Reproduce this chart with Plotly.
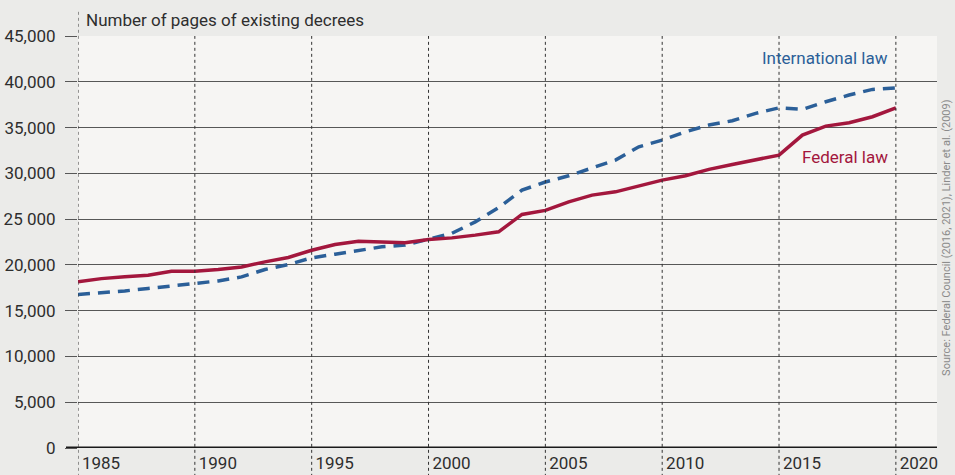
import plotly.graph_objects as go

years = list(range(1985, 2021))
federal_law = [18150, 18500, 18700, 18880, 19300, 19300, 19500, 19780, 20330, 20810,
               21600, 22230, 22590, 22520, 22410, 22780, 22950, 23250, 23610, 25510,
               25950, 26890, 27620, 27980, 28600, 29260, 29730, 30430, 30970, 31520,
               31990, 34180, 35160, 35520, 36180, 37160]
international_law = [16770, 16950, 17160, 17420, 17710, 18000, 18250, 18690, 19500, 20040,
                     20770, 21170, 21570, 21970, 22160, 22800, 23450, 24700, 26250, 28170,
                     29050, 29730, 30540, 31450, 32900, 33630, 34540, 35270, 35740, 36550,
                     37150, 36990, 37820, 38550, 39170, 39330]
y_ticks = [0, 5000, 10000, 15000, 20000, 25000, 30000, 35000, 40000, 45000]
y_ticktext = ["0", "5,000", "10,000", "15,000", "20,000", "25 000", "30,000", "35,000", "40,000", "45,000"]
x_ticks = [1985, 1990, 1995, 2000, 2005, 2010, 2015, 2020]

FONT = "Roboto, Liberation Sans Narrow, sans-serif"
RED = "#a3173d"
BLUE = "#2b5f98"
TXT = "#2e2e2e"

fig = go.Figure()
fig.add_trace(go.Scatter(x=years, y=international_law, mode="lines",
                         line=dict(color=BLUE, width=3.5, dash="12px,8px"),
                         hoverinfo="skip", showlegend=False))
fig.add_trace(go.Scatter(x=years, y=federal_law, mode="lines",
                         line=dict(color=RED, width=3.5),
                         hoverinfo="skip", showlegend=False))

shapes = []
for yr in x_ticks:
    shapes.append(dict(type="line", xref="x", yref="paper", x0=yr, x1=yr,
                       y0=-0.07, y1=1.06 if yr == 1985 else 1.0,
                       line=dict(color="#333333", width=1, dash="3px,3px"),
                       layer="above"))
# thick zero axis line extending into tick area
shapes.append(dict(type="line", xref="paper", yref="y", xsizemode="pixel", xanchor=0,
                   x0=-12, x1=859, y0=0, y1=0,
                   line=dict(color="#1a1a1a", width=3), layer="above"))

fig.update_layout(
    width=955, height=475,
    margin=dict(l=78, r=18, t=36, b=27),
    paper_bgcolor="#ebebe9",
    plot_bgcolor="#f6f5f3",
    font=dict(family=FONT, size=17, color=TXT),
    showlegend=False,
    shapes=shapes,
    xaxis=dict(range=[1985, 2021.76], tickvals=x_ticks, ticktext=[str(v) for v in x_ticks],
               showgrid=False, zeroline=False, showline=False, ticks="",
               ticklabelshift=23, ticklabelstandoff=3, automargin=False,
               tickfont=dict(family=FONT, size=17, color=TXT), fixedrange=True),
    yaxis=dict(range=[0, 45000], tickvals=y_ticks, ticktext=y_ticktext,
               showgrid=True, gridcolor="#575757", gridwidth=1,
               zeroline=False, showline=False, automargin=False,
               ticks="outside", ticklen=12, tickcolor="#575757", tickwidth=1,
               ticklabelstandoff=6,
               tickfont=dict(family=FONT, size=17, color=TXT), fixedrange=True),
    annotations=[
        dict(text="Number of pages of existing decrees", xref="paper", yref="paper",
             x=0, y=1, xanchor="left", yanchor="bottom", xshift=6, yshift=4,
             showarrow=False, font=dict(family=FONT, size=17, color=TXT)),
        dict(text="International law", xref="x", yref="y", x=2020, y=42600,
             xanchor="right", yanchor="middle", xshift=-6, showarrow=False,
             font=dict(family=FONT, size=17, color=BLUE)),
        dict(text="Federal law", xref="x", yref="y", x=2020, y=31800,
             xanchor="right", yanchor="middle", xshift=-6, showarrow=False,
             font=dict(family=FONT, size=17, color=RED)),
        dict(text="Source: Federal Council (2016, 2021), Linder et al. (2009)",
             xref="paper", yref="paper", x=1, y=0.51, xanchor="center", yanchor="middle",
             xshift=10, textangle=-90, showarrow=False,
             font=dict(family=FONT, size=11, color="#8a8a8a")),
    ],
)

fig.write_html("out.html", config={"displayModeBar": False},
               post_script="document.body.style.margin='0px';document.body.style.overflow='hidden';")
